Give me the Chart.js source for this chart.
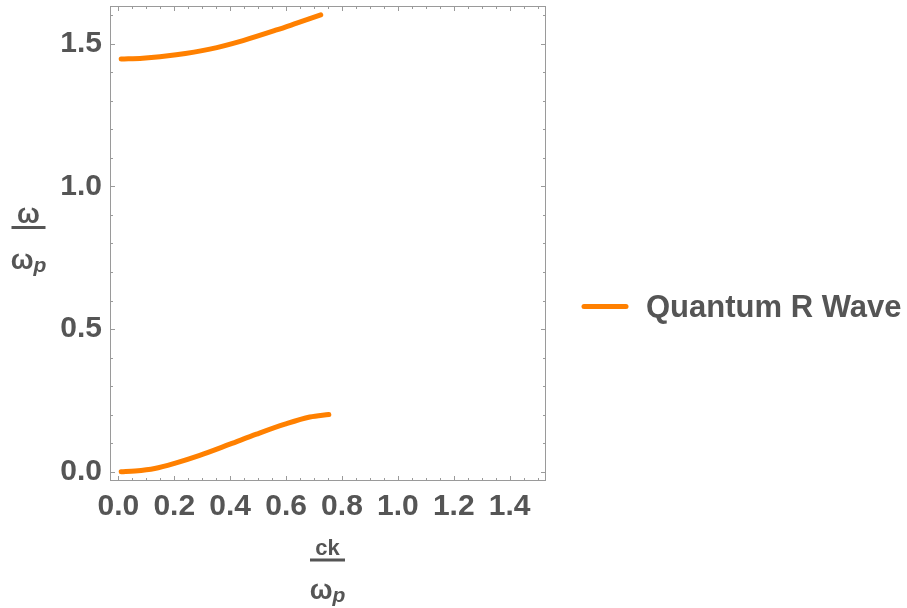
<!DOCTYPE html>
<html><head><meta charset="utf-8">
<script src="https://cdn.jsdelivr.net/npm/chart.js@4.4.0/dist/chart.umd.min.js"></script>
<style>html,body{margin:0;padding:0;background:#fff;}canvas{display:block;}</style>
</head><body>
<canvas id="c" width="907" height="608"></canvas>
<script>
const seriesName = 'Quantum R Wave';
// lower branch
const kLower = [0.01, 0.06, 0.13, 0.201, 0.291, 0.399, 0.494, 0.596, 0.685, 0.753];
const wLower = [0.0, 0.003, 0.012, 0.030, 0.058, 0.097, 0.132, 0.167, 0.192, 0.201];
// upper branch
const kUpper = [0.01, 0.087, 0.207, 0.327, 0.446, 0.566, 0.638, 0.724];
const wUpper = [1.446, 1.449, 1.461, 1.481, 1.511, 1.548, 1.572, 1.601];
const xTickValues = [0.0, 0.2, 0.4, 0.6, 0.8, 1.0, 1.2, 1.4];
const yTickValues = [0.0, 0.5, 1.0, 1.5];
const xRange = [-0.03, 1.53];
const yRange = [-0.032, 1.632];
const xMinorStep = 0.05, yMinorStep = 0.1;

const ORANGE = '#ff8000';
const TEXT = '#555555';
const FRAME = '#9a9a9a';
const FONT = '"Liberation Sans", Arial, sans-serif';

const toPts = (xs, ys) => xs.map((x, i) => ({x: x, y: ys[i]}));

const frameTicks = {
  id: 'frameTicks',
  beforeDatasetsDraw(chart) {
    const ctx = chart.ctx, a = chart.chartArea;
    const xs = chart.scales.x, ys = chart.scales.y;
    ctx.save();
    ctx.strokeStyle = FRAME;
    ctx.lineWidth = 1;
    ctx.strokeRect(a.left + 0.5, a.top + 0.5, a.right - a.left - 1, a.bottom - a.top - 1);
    ctx.beginPath();
    const isMajor = (v, arr) => arr.some(t => Math.abs(t - v) < 1e-6);
    for (let v = 0; v <= xRange[1] + 1e-9; v += xMinorStep) {
      const vv = Math.round(v * 1000) / 1000;
      const L = isMajor(vv, xTickValues) ? 5 : 3;
      const px = Math.round(xs.getPixelForValue(vv)) + 0.5;
      ctx.moveTo(px, a.bottom); ctx.lineTo(px, a.bottom - L);
      ctx.moveTo(px, a.top); ctx.lineTo(px, a.top + L);
    }
    for (let v = 0; v <= yRange[1] + 1e-9; v += yMinorStep) {
      const vv = Math.round(v * 1000) / 1000;
      const L = isMajor(vv, yTickValues) ? 5 : 3;
      const py = Math.round(ys.getPixelForValue(vv)) + 0.5;
      ctx.moveTo(a.left, py); ctx.lineTo(a.left + L, py);
      ctx.moveTo(a.right, py); ctx.lineTo(a.right - L, py);
    }
    ctx.stroke();
    ctx.restore();
  },
  afterDraw(chart) {
    const ctx = chart.ctx;
    ctx.save();
    // legend
    ctx.strokeStyle = ORANGE; ctx.lineWidth = 5; ctx.lineCap = 'round';
    ctx.beginPath(); ctx.moveTo(584, 306.5); ctx.lineTo(626, 306.5); ctx.stroke();
    ctx.fillStyle = TEXT;
    ctx.font = 'bold 31px ' + FONT;
    ctx.textAlign = 'left'; ctx.textBaseline = 'alphabetic';
    ctx.fillText(chart.data.datasets[0].label, 646, 317);
    // y axis title: ω / ω_p
    drawFraction(ctx, 28.5, 'ω', 27, 227.5, 34, 41);
    // x axis title: ck / ω_p
    drawFraction(ctx, 327.5, 'ck', 22, 560, 35, 39);
    ctx.restore();
  }
};

function drawFraction(ctx, cx, num, numSize, barY, barW, denOff) {
  ctx.fillStyle = TEXT;
  ctx.textBaseline = 'alphabetic';
  ctx.textAlign = 'center';
  ctx.font = 'bold ' + numSize + 'px ' + FONT;
  ctx.fillText(num, cx, barY - 5);
  ctx.fillRect(cx - barW / 2, barY - 1.5, barW, 3);
  // denominator ω with italic subscript p
  ctx.font = 'bold 27px ' + FONT;
  const wOm = ctx.measureText('ω').width;
  ctx.font = 'bold italic 21px ' + FONT;
  const wP = ctx.measureText('p').width;
  const x0 = cx - (wOm + wP) / 2;
  ctx.textAlign = 'left';
  ctx.font = 'bold 27px ' + FONT;
  ctx.fillText('ω', x0, barY + denOff);
  ctx.font = 'bold italic 21px ' + FONT;
  ctx.fillText('p', x0 + wOm, barY + denOff + 3);
}

new Chart(document.getElementById('c'), {
  type: 'scatter',
  data: {
    datasets: [
      {label: seriesName, data: toPts(kLower, wLower), showLine: true, borderColor: ORANGE, backgroundColor: ORANGE,
       borderWidth: 5, pointRadius: 0, cubicInterpolationMode: 'monotone', borderCapStyle: 'round', borderJoinStyle: 'round'},
      {label: seriesName, data: toPts(kUpper, wUpper), showLine: true, borderColor: ORANGE, backgroundColor: ORANGE,
       borderWidth: 5, pointRadius: 0, cubicInterpolationMode: 'monotone', borderCapStyle: 'round', borderJoinStyle: 'round'}
    ]
  },
  options: {
    responsive: false, animation: false, devicePixelRatio: 1,
    layout: {padding: {left: 0, top: 6, right: 361, bottom: 0}},
    plugins: {legend: {display: false}, tooltip: {enabled: false}},
    scales: {
      x: {type: 'linear', min: xRange[0], max: xRange[1],
          grid: {display: false, drawTicks: false}, border: {display: false},
          ticks: {color: TEXT, font: {family: FONT, size: 30, weight: 'bold'}, padding: 7.5,
                  maxRotation: 0, autoSkip: false, callback: v => Number(v).toFixed(1)},
          afterBuildTicks: s => { s.ticks = xTickValues.map(v => ({value: v})); },
          afterFit: s => { s.height = 127; s.paddingLeft = 0; s.paddingRight = 0; }},
      y: {type: 'linear', min: yRange[0], max: yRange[1],
          grid: {display: false, drawTicks: false}, border: {display: false},
          ticks: {color: TEXT, font: {family: FONT, size: 30, weight: 'bold'}, padding: 8,
                  autoSkip: false, callback: v => Number(v).toFixed(1)},
          afterBuildTicks: s => { s.ticks = yTickValues.map(v => ({value: v})); },
          afterFit: s => { s.width = 110; s.paddingTop = 0; s.paddingBottom = 0; }}
    }
  },
  plugins: [frameTicks]
});
</script>
</body></html>
